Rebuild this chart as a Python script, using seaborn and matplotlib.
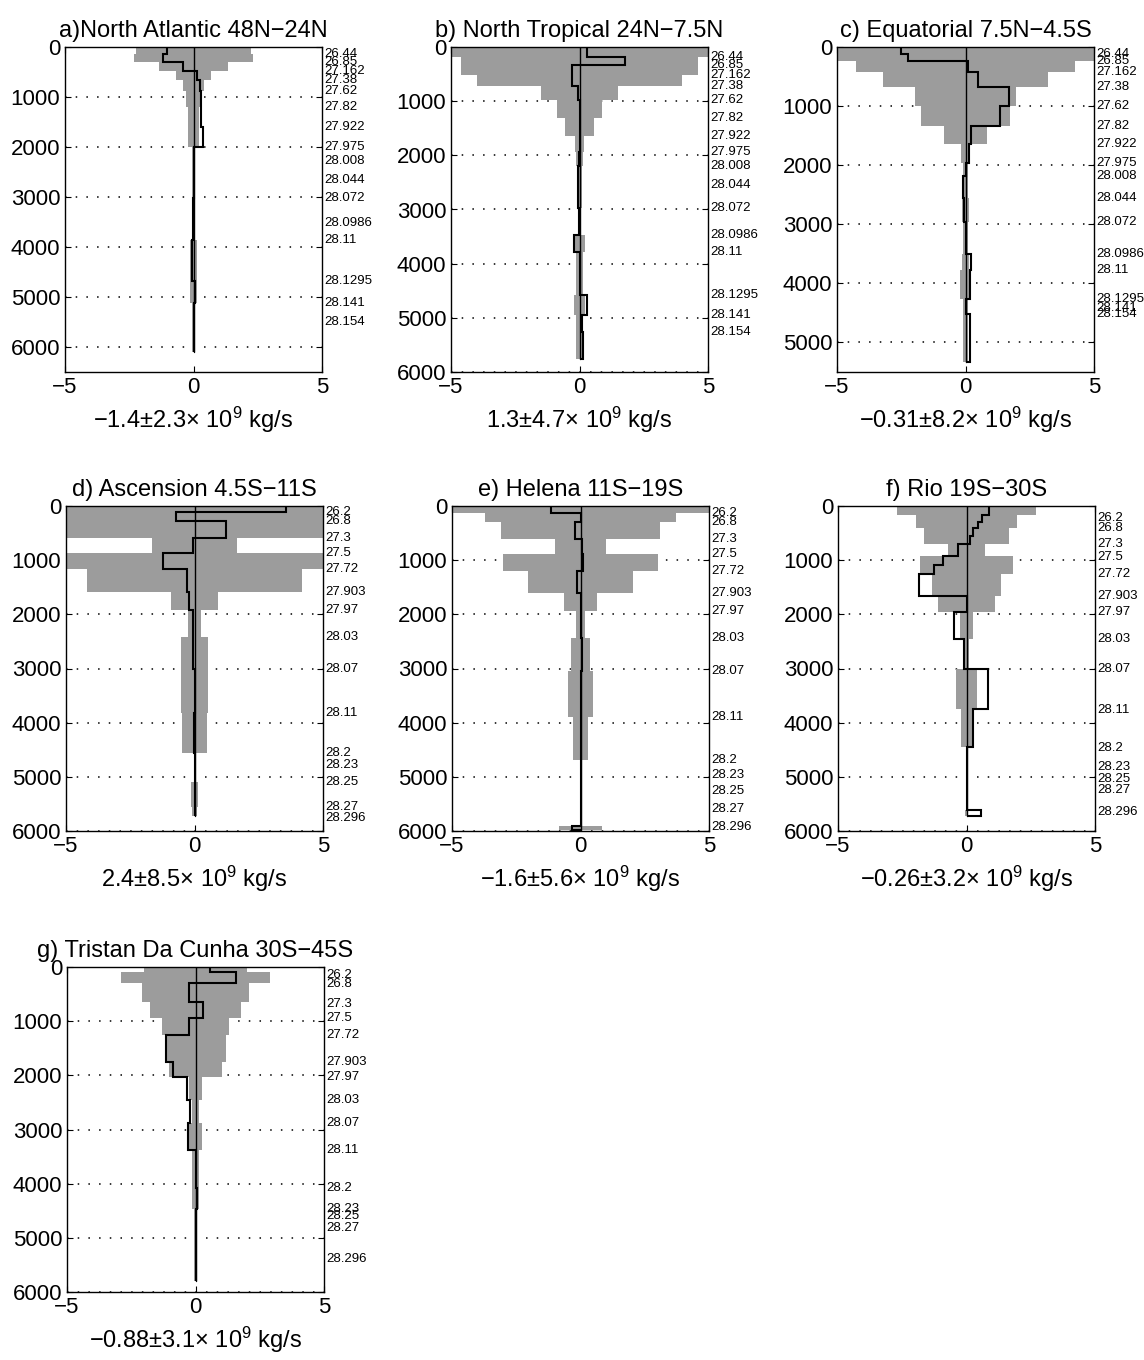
import numpy as np
import seaborn as sns
from matplotlib import pyplot as plt

# panel titles and net transports
titles = ['a)North Atlantic 48N\u221224N', 'b) North Tropical 24N\u22127.5N',
          'c) Equatorial 7.5N\u22124.5S', 'd) Ascension 4.5S\u221211S',
          'e) Helena 11S\u221219S', 'f) Rio 19S\u221230S',
          'g) Tristan Da Cunha 30S\u221245S']
totals = ['\u22121.4\u00b12.3\u00d7 10$^9$ kg/s', '1.3\u00b14.7\u00d7 10$^9$ kg/s',
          '\u22120.31\u00b18.2\u00d7 10$^9$ kg/s', '2.4\u00b18.5\u00d7 10$^9$ kg/s',
          '\u22121.6\u00b15.6\u00d7 10$^9$ kg/s', '\u22120.26\u00b13.2\u00d7 10$^9$ kg/s',
          '\u22120.88\u00b13.1\u00d7 10$^9$ kg/s']
depth_max = [6500, 6000, 5500, 6000, 6000, 6000, 6000]

# neutral density surfaces (right hand labels)
gamma_north = ['26.44', '26.85', '27.162', '27.38', '27.62', '27.82', '27.922', '27.975',
               '28.008', '28.044', '28.072', '28.0986', '28.11', '28.1295', '28.141', '28.154']
gamma_south = ['26.2', '26.8', '27.3', '27.5', '27.72', '27.903', '27.97', '28.03',
               '28.07', '28.11', '28.2', '28.23', '28.25', '28.27', '28.296']

gdepth_a = [133, 300, 480, 667, 880, 1200, 1600, 2000, 2280, 2653, 3013, 3513, 3853, 4687, 5120, 5507]
gdepth_b = [190, 324, 520, 722, 985, 1303, 1640, 1945, 2190, 2556, 2966, 3474, 3792, 4575, 4942, 5260]
gdepth_c = [124, 236, 421, 674, 1000, 1331, 1646, 1955, 2180, 2556, 2966, 3511, 3775, 4270, 4410, 4522]
gdepth_d = [105, 270, 585, 874, 1169, 1594, 1920, 2412, 3015, 3828, 4554, 4782, 5102, 5551, 5754]
gdepth_e = [135, 290, 615, 892, 1200, 1612, 1932, 2443, 3040, 3902, 4690, 4966, 5255, 5600, 5920]
gdepth_f = [215, 400, 705, 940, 1258, 1670, 1963, 2454, 3006, 3773, 4466, 4816, 5031, 5245, 5644]
gdepth_g = [153, 307, 675, 950, 1258, 1748, 2025, 2454, 2883, 3386, 4080, 4466, 4600, 4816, 5386]

# layer edges (m), uncertainty (+/-) and transport per layer (1e9 kg/s)
edges_a = [0, 133, 300, 480, 667, 880, 1200, 1600, 2000, 2280, 2653, 3013, 3513, 3853, 4687, 5120, 5507, 6100]
err_a = [2.25, 2.3, 1.35, 0.7, 0.42, 0.3, 0.23, 0.2, 0.06, 0.05, 0.05, 0.05, 0.06, 0.13, 0.14, 0.07, 0.07]
trans_a = [-1.04, -1.17, -0.39, 0.13, 0.26, 0.29, 0.29, 0.36, 0.02, 0.01, 0.0, -0.02, -0.03, -0.05, 0.04, 0.02, 0.02]

edges_b = [0, 190, 324, 520, 722, 985, 1303, 1640, 1945, 2190, 2556, 2966, 3474, 3792, 4575, 4942, 5260, 5755]
err_b = [5.5, 4.6, 4.6, 4.0, 1.5, 0.88, 0.55, 0.18, 0.12, 0.1, 0.08, 0.06, 0.2, 0.12, 0.2, 0.12, 0.15]
trans_b = [0.31, 1.78, -0.3, -0.3, -0.05, 0.02, 0.03, 0.0, -0.03, -0.05, -0.05, -0.02, -0.2, 0.0, 0.3, 0.1, 0.12]

edges_c = [0, 124, 236, 421, 674, 1000, 1331, 1646, 1955, 2180, 2556, 2966, 3511, 3775, 4270, 4410, 4522, 5337]
err_c = [5.5, 5.5, 4.25, 3.2, 1.95, 1.72, 0.85, 0.16, 0.1, 0.1, 0.15, 0.1, 0.12, 0.2, 0.1, 0.1, 0.1]
trans_c = [-2.51, -2.25, 0.1, 0.47, 1.7, 1.35, 0.23, 0.14, 0.0, -0.08, -0.06, 0.02, 0.22, 0.18, 0.02, 0.02, 0.17]

edges_d = [0, 105, 270, 585, 874, 1169, 1594, 1920, 2412, 3015, 3828, 4554, 4782, 5102, 5551, 5720]
err_d = [5.5, 5.5, 5.5, 1.67, 5.5, 4.17, 0.93, 0.25, 0.53, 0.53, 0.48, 0.02, 0.02, 0.15, 0.1]
trans_d = [3.55, -0.73, 1.24, -0.05, -1.22, -0.28, -0.2, -0.05, -0.05, 0.0, -0.02, 0.0, 0.0, 0.0, 0.0]

edges_e = [0, 135, 290, 615, 892, 1200, 1612, 1932, 2443, 3040, 3902, 4690, 4966, 5255, 5600, 5900, 5985]
err_e = [5.5, 3.7, 3.1, 1.0, 3.0, 2.03, 0.65, 0.18, 0.36, 0.47, 0.3, 0.03, 0.03, 0.03, 0.03, 0.82]
trans_e = [-1.13, 0.0, -0.22, 0.05, 0.1, -0.15, 0.0, 0.0, 0.05, 0.02, 0.02, 0.02, 0.02, 0.02, 0.02, -0.35]

edges_f = [0, 170, 290, 400, 560, 705, 930, 1090, 1258, 1660, 1950, 2454, 3000, 3750, 4450, 4816, 5031, 5245, 5620, 5720]
err_f = [2.7, 1.95, 1.95, 1.65, 1.65, 0.72, 1.8, 1.8, 1.33, 1.11, 0.27, 0.1, 0.4, 0.2, 0.02, 0.02, 0.02, 0.02, 0.05]
trans_f = [0.89, 0.6, 0.43, 0.27, 0.12, -0.34, -0.9, -1.28, -1.83, 0.0, -0.5, -0.08, 0.85, 0.27, 0.0, 0.0, 0.0, 0.0, 0.56]

edges_g = [0, 100, 295, 640, 950, 1258, 1750, 2025, 2454, 2883, 3386, 4080, 4466, 4600, 4816, 5386, 5800]
err_g = [2.0, 2.9, 2.1, 1.78, 1.32, 1.2, 1.05, 0.25, 0.15, 0.25, 0.15, 0.12, 0.07, 0.07, 0.07, 0.07]
trans_g = [0.56, 1.57, -0.25, 0.3, -0.25, -1.13, -0.87, -0.35, -0.2, -0.28, 0.0, 0.05, 0.03, 0.02, 0.02, 0.02]

sns.set_style('ticks')
plt.rcParams['font.family'] = ['Liberation Sans', 'DejaVu Sans']
plt.rcParams['mathtext.fontset'] = 'custom'
plt.rcParams['mathtext.rm'] = 'Liberation Sans'
plt.rcParams['mathtext.it'] = 'Liberation Sans'
for key in ['text.color', 'axes.labelcolor', 'xtick.color', 'ytick.color', 'axes.edgecolor']:
    plt.rcParams[key] = 'black'

W, H = 1144, 1360
GRAY = '#9c9c9c'


def plot_section(ax, title, total, edges, err, trans, gamma, gdepth, ymax):
    edges = np.asarray(edges, float)
    err = np.asarray(err, float)
    ax.barh(edges[:-1], 2 * err, left=-err, height=np.diff(edges), align='edge',
            color=GRAY, linewidth=0, zorder=1)
    ax.stairs(trans, edges, orientation='horizontal', baseline=0,
              color='black', linewidth=1.5, zorder=3)
    ax.plot([0, 0], [0, edges[-1]], color='black', linewidth=1.0, zorder=3)
    ax.set_xlim(-5, 5)
    ax.set_ylim(ymax, 0)
    ax.set_xticks([-5, 0, 5])
    ax.set_yticks(np.arange(0, ymax + 1, 1000))
    ax.set_axisbelow(True)
    ax.yaxis.grid(True, linestyle=(0, (1, 6)), color='black', linewidth=1.1)
    ax.tick_params(direction='in', top=True, right=True, length=4,
                   labelsize=16, width=0.8, colors='black')
    for sp in ax.spines.values():
        sp.set_linewidth(1.0)
        sp.set_color('black')
    ax.set_title(title, fontsize=17, pad=7, color='black')
    ax.set_xlabel(total, fontsize=17, labelpad=5, color='black')
    for name, d in zip(gamma, gdepth):
        ax.text(1.008, d, name, transform=ax.get_yaxis_transform(),
                ha='left', va='center', fontsize=9.5, color='black', clip_on=False)


fig = plt.figure(figsize=(W / 100, H / 100), dpi=100)

boxes = [(65, 47), (451, 47), (837, 47), (66, 506), (452, 506), (838, 506), (67, 967)]
all_edges = [edges_a, edges_b, edges_c, edges_d, edges_e, edges_f, edges_g]
all_err = [err_a, err_b, err_c, err_d, err_e, err_f, err_g]
all_trans = [trans_a, trans_b, trans_c, trans_d, trans_e, trans_f, trans_g]
all_gdepth = [gdepth_a, gdepth_b, gdepth_c, gdepth_d, gdepth_e, gdepth_f, gdepth_g]
all_gamma = [gamma_north] * 3 + [gamma_south] * 4

for i in range(7):
    left, top = boxes[i]
    ax = fig.add_axes([left / W, 1 - (top + 325) / H, 257 / W, 325 / H])
    plot_section(ax, titles[i], totals[i], all_edges[i], all_err[i], all_trans[i],
                 all_gamma[i], all_gdepth[i], depth_max[i])

fig.savefig('out.png', dpi=100, facecolor='white')
